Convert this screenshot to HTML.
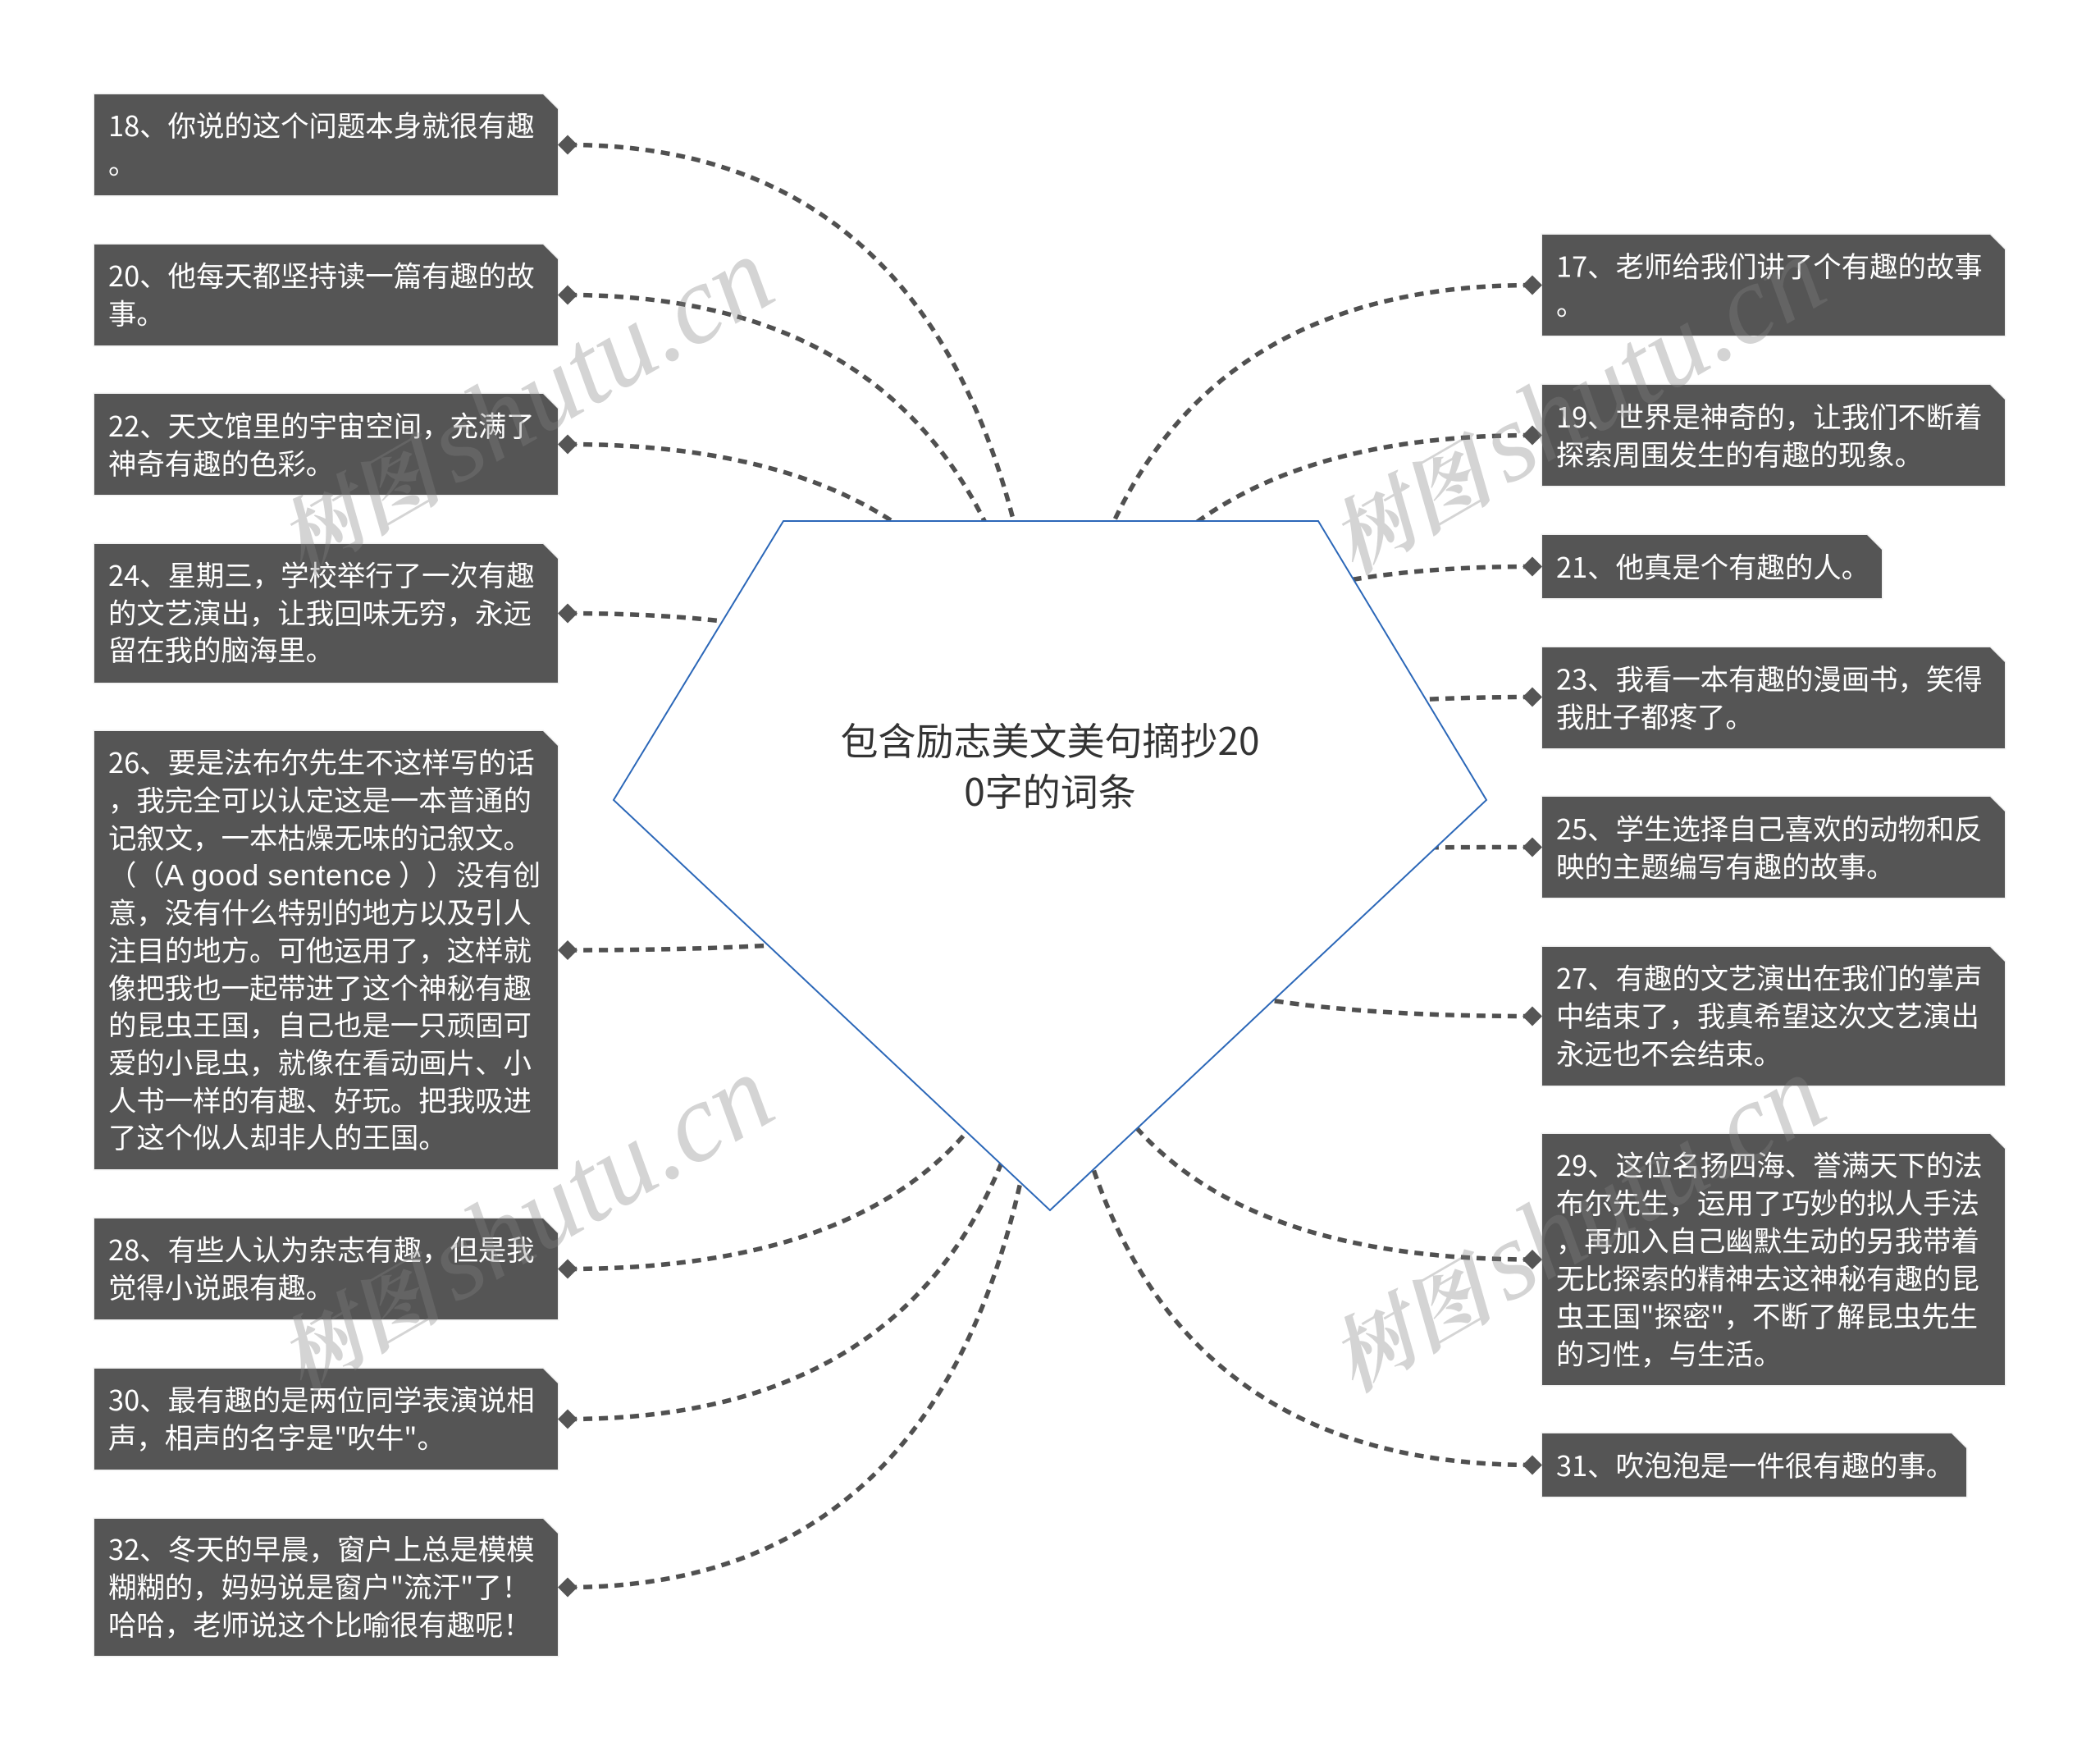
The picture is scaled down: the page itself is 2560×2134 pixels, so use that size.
<!DOCTYPE html>
<html>
<head>
<meta charset="utf-8">
<style>
html,body{margin:0;padding:0;background:#fff;}
svg{display:block;}
.t{font-family:"Noto Sans CJK SC","Liberation Sans",sans-serif;font-weight:400;font-size:34.4px;fill:#fff;text-spacing-trim:space-all;font-feature-settings:"chws" 0;}
.c{font-family:"Noto Sans CJK SC","Liberation Sans",sans-serif;font-weight:400;font-size:46px;fill:#333;text-anchor:middle;}
.w{fill:rgb(130,130,130);fill-opacity:.34;}
.wc{font-family:"Noto Serif CJK SC",serif;font-weight:700;font-style:italic;font-size:100px;}
.wl{font-family:"Liberation Serif",serif;font-style:italic;font-size:136px;}
.l{fill:none;stroke:#505050;stroke-width:5.5;stroke-dasharray:11 8;}
.b{fill:#555;}
.o{stroke:#f0f0f0;stroke-width:3;paint-order:stroke;}
</style>
</head>
<body>
<svg xmlns="http://www.w3.org/2000/svg" width="2560" height="2134" viewBox="0 0 2560 2134">
<rect width="2560" height="2134" fill="#fff"/>
<g class="l">
<path d="M692 176.5Q1281 176.5 1281 1055"/>
<path d="M692 359.5Q1281 359.5 1281 1055"/>
<path d="M692 541.5Q1281 541.5 1281 1055"/>
<path d="M692 747.5Q1281 747.5 1281 1055"/>
<path d="M692 1158Q1281 1158 1281 1055"/>
<path d="M692 1546.5Q1281 1546.5 1281 1055"/>
<path d="M692 1729.5Q1281 1729.5 1281 1055"/>
<path d="M692 1934.5Q1281 1934.5 1281 1055"/>
<path d="M1868 347.5Q1281 347.5 1281 1055"/>
<path d="M1868 530.5Q1281 530.5 1281 1055"/>
<path d="M1868 690.5Q1281 690.5 1281 1055"/>
<path d="M1868 849.5Q1281 849.5 1281 1055"/>
<path d="M1868 1032.5Q1281 1032.5 1281 1055"/>
<path d="M1868 1238.5Q1281 1238.5 1281 1055"/>
<path d="M1868 1535Q1281 1535 1281 1055"/>
<path d="M1868 1785.5Q1281 1785.5 1281 1055"/>
</g>
<polygon points="955,635 1607,635 1812,975 1280,1475 748,975" fill="#fff" stroke="#2b67b8" stroke-width="2"/>
<g class="b o">
<path d="M115 115H662L680 133V238H115Z"/>
<path d="M115 298H662L680 316V421H115Z"/>
<path d="M115 480H662L680 498V603H115Z"/>
<path d="M115 663H662L680 681V832H115Z"/>
<path d="M115 891H662L680 909V1425H115Z"/>
<path d="M115 1485H662L680 1503V1608H115Z"/>
<path d="M115 1668H662L680 1686V1791H115Z"/>
<path d="M115 1851H662L680 1869V2018H115Z"/>
<path d="M1880 286H2426L2444 304V409H1880Z"/>
<path d="M1880 469H2426L2444 487V592H1880Z"/>
<path d="M1880 652H2276L2294 670V729H1880Z"/>
<path d="M1880 789H2426L2444 807V912H1880Z"/>
<path d="M1880 971H2426L2444 989V1094H1880Z"/>
<path d="M1880 1154H2426L2444 1172V1323H1880Z"/>
<path d="M1880 1382H2426L2444 1400V1688H1880Z"/>
<path d="M1880 1747H2379L2397 1765V1824H1880Z"/>
</g>
<g class="b">
<path d="M692 164.5L704 176.5L692 188.5L680 176.5Z"/>
<path d="M692 347.5L704 359.5L692 371.5L680 359.5Z"/>
<path d="M692 529.5L704 541.5L692 553.5L680 541.5Z"/>
<path d="M692 735.5L704 747.5L692 759.5L680 747.5Z"/>
<path d="M692 1146L704 1158L692 1170L680 1158Z"/>
<path d="M692 1534.5L704 1546.5L692 1558.5L680 1546.5Z"/>
<path d="M692 1717.5L704 1729.5L692 1741.5L680 1729.5Z"/>
<path d="M692 1922.5L704 1934.5L692 1946.5L680 1934.5Z"/>
<path d="M1868 335.5L1880 347.5L1868 359.5L1856 347.5Z"/>
<path d="M1868 518.5L1880 530.5L1868 542.5L1856 530.5Z"/>
<path d="M1868 678.5L1880 690.5L1868 702.5L1856 690.5Z"/>
<path d="M1868 837.5L1880 849.5L1868 861.5L1856 849.5Z"/>
<path d="M1868 1020.5L1880 1032.5L1868 1044.5L1856 1032.5Z"/>
<path d="M1868 1226.5L1880 1238.5L1868 1250.5L1856 1238.5Z"/>
<path d="M1868 1523L1880 1535L1868 1547L1856 1535Z"/>
<path d="M1868 1773.5L1880 1785.5L1868 1797.5L1856 1785.5Z"/>
</g>
<g class="t">
<text x="132" y="166">18、你说的这个问题本身就很有趣</text>
<text x="132" y="212">。</text>
<text x="132" y="349">20、他每天都坚持读一篇有趣的故</text>
<text x="132" y="395">事。</text>
<text x="132" y="532">22、天文馆里的宇宙空间，充满了</text>
<text x="132" y="578">神奇有趣的色彩。</text>
<text x="132" y="714">24、星期三，学校举行了一次有趣</text>
<text x="132" y="760">的文艺演出，让我回味无穷，永远</text>
<text x="132" y="805">留在我的脑海里。</text>
<text x="132" y="942">26、要是法布尔先生不这样写的话</text>
<text x="132" y="988">，我完全可以认定这是一本普通的</text>
<text x="132" y="1034">记叙文，一本枯燥无味的记叙文。</text>
<text y="1079"><tspan x="132">（</tspan><tspan x="166">（</tspan><tspan x="200" font-family="Liberation Sans" font-size="36" textLength="277" lengthAdjust="spacing">A good sentence</tspan><tspan x="486">）</tspan><tspan x="520">）</tspan><tspan x="556">没有创</tspan></text>
<text x="132" y="1125">意，没有什么特别的地方以及引人</text>
<text x="132" y="1171">注目的地方。可他运用了，这样就</text>
<text x="132" y="1217">像把我也一起带进了这个神秘有趣</text>
<text x="132" y="1262">的昆虫王国，自己也是一只顽固可</text>
<text x="132" y="1308">爱的小昆虫，就像在看动画片、小</text>
<text x="132" y="1354">人书一样的有趣、好玩。把我吸进</text>
<text x="132" y="1399">了这个似人却非人的王国。</text>
<text x="132" y="1536">28、有些人认为杂志有趣，但是我</text>
<text x="132" y="1582">觉得小说跟有趣。</text>
<text x="132" y="1719">30、最有趣的是两位同学表演说相</text>
<text x="132" y="1765">声，相声的名字是"吹牛"。</text>
<text x="132" y="1901">32、冬天的早晨，窗户上总是模模</text>
<text x="132" y="1947">糊糊的，妈妈说是窗户"流汗"了！</text>
<text x="132" y="1993">哈哈，老师说这个比喻很有趣呢！</text>
<text x="1897" y="337.5">17、老师给我们讲了个有趣的故事</text>
<text x="1897" y="384">。</text>
<text x="1897" y="521">19、世界是神奇的，让我们不断着</text>
<text x="1897" y="567">探索周围发生的有趣的现象。</text>
<text x="1897" y="704">21、他真是个有趣的人。</text>
<text x="1897" y="840.5">23、我看一本有趣的漫画书，笑得</text>
<text x="1897" y="886.5">我肚子都疼了。</text>
<text x="1897" y="1023">25、学生选择自己喜欢的动物和反</text>
<text x="1897" y="1069">映的主题编写有趣的故事。</text>
<text x="1897" y="1205">27、有趣的文艺演出在我们的掌声</text>
<text x="1897" y="1251">中结束了，我真希望这次文艺演出</text>
<text x="1897" y="1297">永远也不会结束。</text>
<text x="1897" y="1433">29、这位名扬四海、誉满天下的法</text>
<text x="1897" y="1479">布尔先生，运用了巧妙的拟人手法</text>
<text x="1897" y="1525">，再加入自己幽默生动的另我带着</text>
<text x="1897" y="1571">无比探索的精神去这神秘有趣的昆</text>
<text x="1897" y="1617">虫王国"探密"，不断了解昆虫先生</text>
<text x="1897" y="1663">的习性，与生活。</text>
<text x="1897" y="1799">31、吹泡泡是一件很有趣的事。</text>
</g>
<text class="c" x="1280" y="920">包含励志美文美句摘抄20</text>
<text class="c" x="1280" y="982">0字的词条</text>
<g class="w">
<text transform="translate(368,700) rotate(-30)"><tspan class="wc">树图</tspan><tspan font-size="2"> </tspan><tspan class="wl" dx="16">shutu.cn</tspan></text>
<text transform="translate(1650,700) rotate(-30)"><tspan class="wc">树图</tspan><tspan font-size="2"> </tspan><tspan class="wl" dx="16">shutu.cn</tspan></text>
<text transform="translate(368,1697) rotate(-30)"><tspan class="wc">树图</tspan><tspan font-size="2"> </tspan><tspan class="wl" dx="16">shutu.cn</tspan></text>
<text transform="translate(1650,1697) rotate(-30)"><tspan class="wc">树图</tspan><tspan font-size="2"> </tspan><tspan class="wl" dx="16">shutu.cn</tspan></text>
</g>
</svg>
</body>
</html>
